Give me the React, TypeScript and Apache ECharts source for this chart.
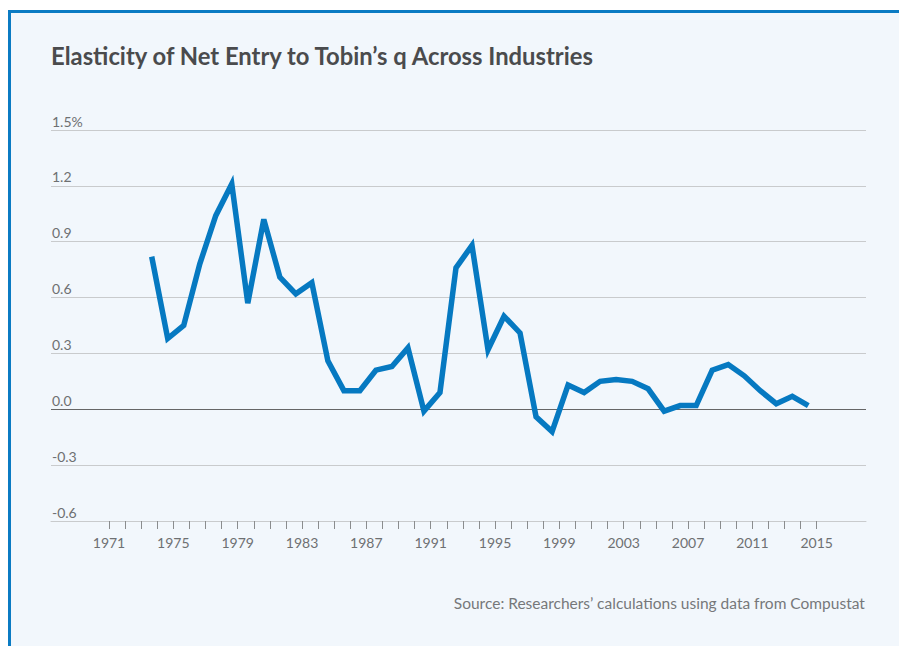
import React, { useEffect, useRef } from "react";
import * as echarts from "echarts";

const years: number[] = [
  1974, 1975, 1976, 1977, 1978, 1979, 1980, 1981, 1982, 1983, 1984, 1985, 1986, 1987,
  1988, 1989, 1990, 1991, 1992, 1993, 1994, 1995, 1996, 1997, 1998, 1999, 2000, 2001,
  2002, 2003, 2004, 2005, 2006, 2007, 2008, 2009, 2010, 2011, 2012, 2013, 2014, 2015,
];
const elasticity: number[] = [
  0.82, 0.38, 0.45, 0.78, 1.04, 1.21, 0.57, 1.02, 0.71, 0.62, 0.68, 0.26, 0.1, 0.1,
  0.21, 0.23, 0.33, -0.01, 0.09, 0.76, 0.88, 0.32, 0.5, 0.41, -0.04, -0.12, 0.13, 0.09,
  0.15, 0.16, 0.15, 0.11, -0.01, 0.02, 0.02, 0.21, 0.24, 0.18, 0.1, 0.03, 0.07, 0.02,
];
const tickYears: number[] = Array.from({ length: 45 }, (_, i) => 1971 + i);
const labelYears: number[] = [1971, 1975, 1979, 1983, 1987, 1991, 1995, 1999, 2003, 2007, 2011, 2015];
const yTicks: number[] = [-0.6, -0.3, 0, 0.3, 0.6, 0.9, 1.2, 1.5];

const titleText = "Elasticity of Net Entry to Tobin\u2019s q Across Industries";
const sourceText = "Source: Researchers\u2019 calculations using data from Compustat";

const FONT = "Lato, 'Noto Sans', sans-serif";

export default function App() {
  const ref = useRef<HTMLDivElement>(null);
  useEffect(() => {
    if (!ref.current) return;
    const chart = echarts.init(ref.current, undefined, { renderer: "svg" });
    const gridColor = "#c9cbcd";
    const splitColors = yTicks.map((v) => (Math.abs(v) < 1e-9 ? "#666666" : gridColor));
    chart.setOption({
      animation: false,
      backgroundColor: "#ffffff",
      title: {
        text: titleText,
        left: 51,
        top: 44,
        padding: 0,
        textStyle: { fontFamily: FONT, fontSize: 23.8, fontWeight: "bold", color: "#4a4b4d" },
      },
      graphic: [
        { type: "rect", z: -10, silent: true, shape: { x: 8, y: 10, width: 891, height: 636 }, style: { fill: "#f2f7fc" } },
        { type: "rect", z: 10, silent: true, shape: { x: 8, y: 10, width: 891, height: 3 }, style: { fill: "#0b7bc3" } },
        { type: "rect", z: 10, silent: true, shape: { x: 8, y: 10, width: 3, height: 636 }, style: { fill: "#0b7bc3" } },
        {
          type: "text",
          right: 34,
          top: 595,
          style: { text: sourceText, fontFamily: FONT, fontSize: 15.5, fill: "#76787a" },
        },
      ],
      grid: { left: 51, right: 33, top: 130, bottom: 125 },
      xAxis: [
        {
          type: "value",
          min: 1967.394,
          max: 2018.065,
          splitLine: { show: false },
          axisLine: { show: true, onZero: false, lineStyle: { color: gridColor, width: 1 } },
          axisTick: { show: true, customValues: tickYears, length: 8, lineStyle: { color: "#8a8c8e" } },
          axisLabel: {
            show: true,
            customValues: labelYears,
            margin: 14,
            fontFamily: FONT,
            fontSize: 14,
            color: "#6e7072",
            formatter: (v: number) => String(Math.round(v)),
          },
        },
        {
          type: "value",
          min: 1967.712,
          max: 2018.603,
          show: false,
        },
      ],
      yAxis: {
        type: "value",
        min: -0.6,
        max: 1.5,
        interval: 0.3,
        axisLine: { show: false },
        axisTick: { show: false },
        splitLine: { show: true, lineStyle: { color: splitColors, width: 1 } },
        axisLabel: {
          inside: true,
          margin: 1,
          verticalAlign: "bottom",
          align: "left",
          padding: [0, 0, 2, 0],
          fontFamily: FONT,
          fontSize: 14,
          color: "#6e7072",
          formatter: (v: number) => (Math.abs(v - 1.5) < 1e-9 ? "1.5%" : v.toFixed(1)),
        },
      },
      series: [
        {
          type: "line",
          xAxisIndex: 1,
          data: years.map((y, i) => [y, elasticity[i]]),
          showSymbol: false,
          symbol: "none",
          lineStyle: { color: "#0679c1", width: 5.5, join: "miter" },
          z: 5,
        },
      ],
    });
    return () => chart.dispose();
  }, []);
  return (
    <div
      ref={ref}
      style={{ position: "absolute", left: 0, top: 0, width: 899, height: 646 }}
    />
  );
}
